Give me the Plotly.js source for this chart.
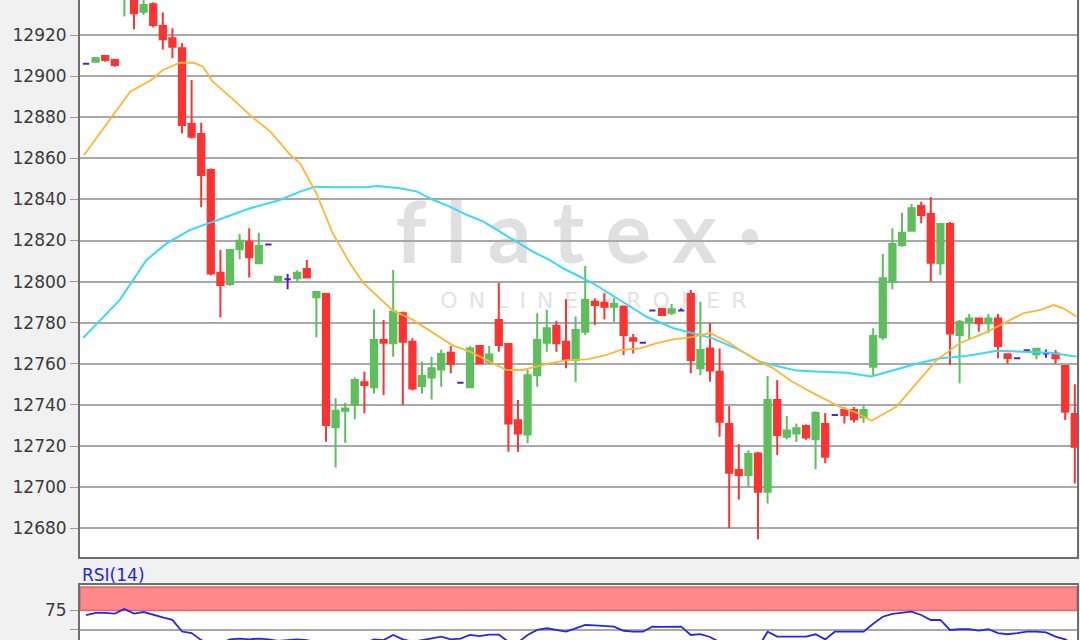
<!DOCTYPE html>
<html><head><meta charset="utf-8">
<script src="https://cdn.plot.ly/plotly-3.0.1.min.js"></script>
<style>
html,body{margin:0;padding:0;overflow:hidden;background:#f1f1f1;width:1080px;height:640px;}
#chart{position:absolute;left:0;top:-40px;width:1080px;height:800px;}
</style></head><body><div id="chart"></div>
<script>
// ---- candle data (index 0..103) ----
const openP = [
12906,12907,12909.8,12907.8,12938,12942,12931.3,12935,12924.4,12918.4,
12913.5,12876.7,12871.8,12854.3,12804.3,12798.8,12815.7,12819.4,12808.9,12818.1,
12800,12801.1,12801.6,12806.1,12792.4,12794,12729.1,12737.2,12740,12751,
12748.6,12771.6,12770,12784.6,12770.8,12749.2,12753.4,12757.2,12765.4,12750.8,
12748.6,12768.7,12761,12781.3,12769.6,12732.6,12725.6,12754.5,12770.3,12778.4,
12770.8,12761.8,12775.6,12790.2,12789.7,12787.8,12787.8,12772.4,12770.3,12786,
12786.7,12784.9,12786,12794,12757.8,12767.5,12756.2,12730.7,12708.3,12705.9,
12716.4,12697.8,12742.4,12724.5,12726.1,12729.7,12723.3,12730.7,12735.1,12737.5,
12737.5,12734,12758.6,12772.9,12800,12817.8,12824.8,12836.8,12832.9,12808.9,
12828,12774,12780.5,12782.1,12779.7,12782.1,12764.6,12762.7,12766.6,12764.6,
12765,12765,12758.9,12735.6];
const highP = [
12906,12909.3,12910.2,12908,12952,12945,12938,12936,12930.9,12923.3,
12916,12898.1,12877.3,12855,12815.4,12816,12823.2,12826,12823.8,12818.1,
12802.8,12803.7,12805.5,12810.5,12795.5,12794.5,12743.2,12741,12753.4,12756.2,
12786.5,12781.3,12805.6,12785.5,12772.5,12761,12763.5,12767,12768.7,12750.8,
12768.5,12769,12768.7,12799.5,12770,12742.4,12757,12784.6,12786.2,12781,
12791.4,12783,12807.6,12791.9,12794.3,12791.9,12788.5,12774.5,12770.3,12786,
12787,12789.1,12787,12795.9,12790.2,12779.7,12767.5,12739.5,12720.9,12718,
12717.2,12754.1,12752.1,12734.6,12731,12730.5,12736.9,12736.1,12735.1,12738.9,
12739,12739.5,12777.3,12813.4,12826,12833.5,12837.8,12838.9,12841,12828.5,
12829,12781.3,12784.2,12782.5,12784.2,12784.2,12765,12762.7,12766.6,12767.5,
12767,12766.7,12759.2,12750];
const lowP = [
12906,12907,12907,12904.6,12929,12922.8,12929.7,12923.7,12913,12908.7,
12872.2,12869.7,12836.2,12803,12782.6,12798,12810.9,12802,12808.5,12818.1,
12799.6,12796.3,12800,12802,12772.9,12722.1,12709.6,12721.6,12733,12736,
12745.6,12744.8,12763.5,12740,12747,12745.6,12742.7,12748.9,12755.4,12750.8,
12748.4,12760,12760,12765.9,12717.2,12717.2,12721.3,12748.9,12765.9,12765.9,
12757.8,12751.3,12774,12778.9,12781.6,12780.5,12764.3,12765,12770.3,12786,
12783.5,12783.7,12786,12755.4,12754.5,12751.3,12724.5,12680,12694,12700.2,
12674.6,12692,12715.6,12723.3,12722,12723,12708.7,12711.6,12735.1,12731,
12731.5,12731.3,12754.5,12771.6,12796.3,12817,12824.3,12828.4,12800,12803.2,
12759.4,12750.5,12771.6,12775.6,12775,12762.7,12760,12762.7,12766.6,12762.2,
12763,12760,12732.7,12701.8];
const closeP = [
12906,12908.7,12907.8,12905.4,12948,12930.6,12934.6,12924.9,12917.9,12914.3,
12876.2,12870.5,12851.9,12804,12798.3,12815.4,12819.9,12811.8,12817.3,12818.1,
12802.4,12801.1,12804.3,12802,12794.9,12730.2,12737.2,12738.3,12752.1,12749.7,
12771.6,12770.3,12785.4,12770.8,12748,12754.1,12757.8,12764.8,12760,12750.8,
12767.5,12760.3,12764.5,12769.2,12731,12726.1,12754.5,12771.6,12777.3,12770,
12762.2,12776.4,12791,12788.6,12787.8,12789.1,12774,12771.2,12770.3,12786,
12783.7,12786.5,12786,12761.9,12766.7,12756.7,12731.8,12707,12705.9,12716.1,
12697.8,12742.4,12725.4,12727.5,12728.6,12724.2,12736.1,12714.8,12735.1,12735.1,
12733,12737.5,12773.5,12801.6,12818.3,12823.8,12835.7,12832.4,12809.2,12828,
12774.8,12780.5,12782.1,12779.7,12782.1,12768.7,12762.8,12762.7,12766.6,12767.3,
12765,12762.7,12736.7,12719.7];

// ---- moving averages (x = candle index) ----
const maFastIdx = [-0.2,2.5,4.6,6.8,8.0,9.8,11.2,12.2,13.2,15.0,17.1,19.2,21.3,22.3,24.0,25.7,27.5,28.9,30.6,32.0,33.8,36.2,38.2,40.0,42.1,43.8,45.5,48.0,50.1,52.2,54.2,55.6,57.7,59.4,61.2,62.9,65.0,67.1,68.1,69.9,71.6,73.3,75.1,76.8,78.5,80.3,81.8,82.7,84.4,86.5,88.6,91.0,93.5,95.6,97.6,99.4,100.8,101.8,103.2];
const maFastVal = [12861.6,12878.6,12892.4,12898.1,12903,12906.5,12906.5,12904.6,12897.3,12890,12881,12873,12861.6,12857.6,12843,12823.5,12808.9,12799.2,12791.9,12785.7,12782.1,12774.8,12769,12765.9,12761,12757,12757,12760,12761.8,12762.2,12764.3,12766.7,12767.5,12770,12771.9,12772.9,12775,12770,12766.7,12761.8,12757.8,12752.1,12747.3,12743.2,12739.1,12736.2,12732.3,12734.6,12739.1,12750.5,12761.8,12770,12774.8,12779.7,12784.6,12786.2,12788.6,12787,12782.9];
const maSlowIdx = [-0.3,1.5,3.5,6.3,8.4,10.8,13.3,15.3,17.1,20.2,22.3,23.9,25.8,29.2,30.3,32.7,34.5,36.2,37.9,39.7,41.4,43.1,44.9,46.6,48.3,49.7,52.8,55.6,58.4,61.2,63.3,65.3,68.1,70.2,72.3,74.0,76.5,79.2,81.8,84.1,86.5,89.0,91.7,94.9,97.6,100.4,103.2];
const maSlowVal = [12772.6,12781.3,12791,12810.5,12818.6,12825.1,12829.2,12832.4,12835.7,12839.7,12843.8,12846.2,12845.9,12845.9,12846.5,12845.4,12843.8,12839.7,12836.5,12832.4,12829.2,12824.3,12819.4,12814.5,12810.5,12806.5,12799.2,12791,12782.9,12777.3,12774.8,12772.4,12766.7,12761,12758.6,12756.7,12756.2,12755.7,12753.8,12757,12760,12762.7,12763.8,12766.4,12765.9,12765.4,12763.5];

// ---- RSI(14) per candle ----
const rsi = [
69,72,72,71,77,71,73,69,66,63,
48,46,37,30,33,38,39,38,39,38,
36,37,38,37,34,24,28,29,33,33,
38,37,43.6,38,35,37,39,41.4,38,39,
43.6,42,44,44,35,34,43.6,50,52.2,50,
47.8,52,56.4,56,55,54.2,49,47.8,47.8,54.2,
54,54.2,54.2,43.6,44.6,41,34,28,27,31,
27,47.8,41.4,41.4,41.4,41.4,44.5,38,47.8,47.8,
47.8,47.8,58,67,70.5,72,73.5,69.2,62.8,63,
50,50.9,50.9,49.1,50.9,46,44.5,46,47.8,47.8,
47,41.4,38,30];
const rsiOverbought = [75, 105];
const rsiMid = 50;

const yTickVals = [12680,12700,12720,12740,12760,12780,12800,12820,12840,12860,12880,12900,12920,12940];

// ---- build traces ----
const idx = openP.map((_, i) => i);
function subset(test) {
  const s = {x:[], open:[], high:[], low:[], close:[]};
  idx.forEach(i => {
    if (test(openP[i], closeP[i])) {
      s.x.push(i); s.open.push(openP[i]); s.high.push(highP[i]);
      s.low.push(lowP[i]); s.close.push(closeP[i]);
    }
  });
  return s;
}
function candle(s, col) {
  return Object.assign({
    type:'candlestick', xaxis:'x', yaxis:'y', whiskerwidth:0, hoverinfo:'skip', showlegend:false,
    increasing:{line:{color:col, width:2}, fillcolor:col},
    decreasing:{line:{color:col, width:2}, fillcolor:col}
  }, s);
}
const GREEN = '#5cbf5c', RED = '#ff3232', DOJI = '#4e22d2';
const traces = [
  candle(subset((o,c) => c > o), GREEN),
  candle(subset((o,c) => c < o), RED),
  candle(subset((o,c) => c === o), DOJI),
  {type:'scatter', mode:'lines', x:maSlowIdx, y:maSlowVal, xaxis:'x', yaxis:'y',
   line:{color:'#3ad9f9', width:2}, hoverinfo:'skip', showlegend:false},
  {type:'scatter', mode:'lines', x:maFastIdx, y:maFastVal, xaxis:'x', yaxis:'y',
   line:{color:'#ffb733', width:1.8}, hoverinfo:'skip', showlegend:false},
  {type:'scatter', mode:'lines', x:idx, y:rsi, xaxis:'x2', yaxis:'y2',
   line:{color:'#2626ee', width:1.8}, hoverinfo:'skip', showlegend:false}
];

const NB = '\u00a0', EN = '\u2002';
const frame = {showline:true, mirror:true, linecolor:'#6e6e6e', linewidth:2, zeroline:false};
const layout = {
  width:1080, height:800,
  margin:{l:80, r:3, t:15, b:60},
  paper_bgcolor:'#f1f1f1', plot_bgcolor:'#ffffff',
  boxgap:0.35, boxgroupgap:0,
  font:{family:'DejaVu Sans', color:'#3a3a3a'},
  xaxis: Object.assign({range:[-0.625, 103.23], showgrid:false, showticklabels:false, ticks:'',
          rangeslider:{visible:false}, anchor:'y'}, frame),
  yaxis: Object.assign({domain:[0.19724, 1], range:[12666.0, 12949.2], tickvals:yTickVals,
          tickformat:'d',
          showgrid:true, gridcolor:'#a9a9a9', gridwidth:2, ticks:'outside', ticklen:8,
          tickcolor:'#9a9a9a', tickfont:{family:'DejaVu Sans', size:17, color:'#3a3a3a'}}, frame),
  xaxis2: Object.assign({range:[-0.625, 103.23], showgrid:false, showticklabels:false, ticks:'',
          anchor:'y2'}, frame),
  yaxis2: Object.assign({domain:[0, 0.15931], range:[-39.8, 108.3], tickvals:[25,50,75],
          ticktext:['25','','75'], showgrid:false,
          ticks:'outside', ticklen:8, tickcolor:'#9a9a9a',
          tickfont:{family:'DejaVu Sans', size:17, color:'#3a3a3a'}}, frame),
  shapes:[
    {type:'rect', xref:'x domain', yref:'y domain', x0:0.28, x1:0.72, y0:0.50, y1:0.63,
     line:{width:0}, fillcolor:'rgba(0,0,0,0)', layer:'below',
     label:{text:['f','l','a','t','e','x','·'].join(NB), textposition:'middle center',
            font:{family:'Lato', size:86, weight:700, color:'#e0e0e0'}}},
    {type:'rect', xref:'x domain', yref:'y domain', x0:0.30, x1:0.73, y0:0.42, y1:0.47,
     line:{width:0}, fillcolor:'rgba(0,0,0,0)', layer:'below',
     label:{text:'ONLINE'.split('').join(EN) + EN + EN + 'BROKER'.split('').join(EN),
            textposition:'middle center', font:{family:'DejaVu Sans', size:22, color:'#e3e3e3'}}},
    {type:'line', xref:'x2 domain', yref:'y2', x0:0, x1:1, y0:rsiMid, y1:rsiMid,
     line:{color:'#a9a9a9', width:2}, layer:'below'},
    {type:'rect', xref:'x2 domain', yref:'y2', x0:0, x1:1, y0:rsiOverbought[0], y1:rsiOverbought[1],
     fillcolor:'#ff8989', line:{color:'#dc6868', width:1.5}, layer:'below'}
  ],
  annotations:[
    {xref:'paper', yref:'paper', x:0, y:0.1724, xanchor:'left', yanchor:'middle', xshift:0,
     text:'RSI(14)', showarrow:false, font:{family:'DejaVu Sans', size:17, color:'#2222ee'}}
  ]
};
Plotly.newPlot('chart', traces, layout, {staticPlot:true, displayModeBar:false});
</script></body></html>
